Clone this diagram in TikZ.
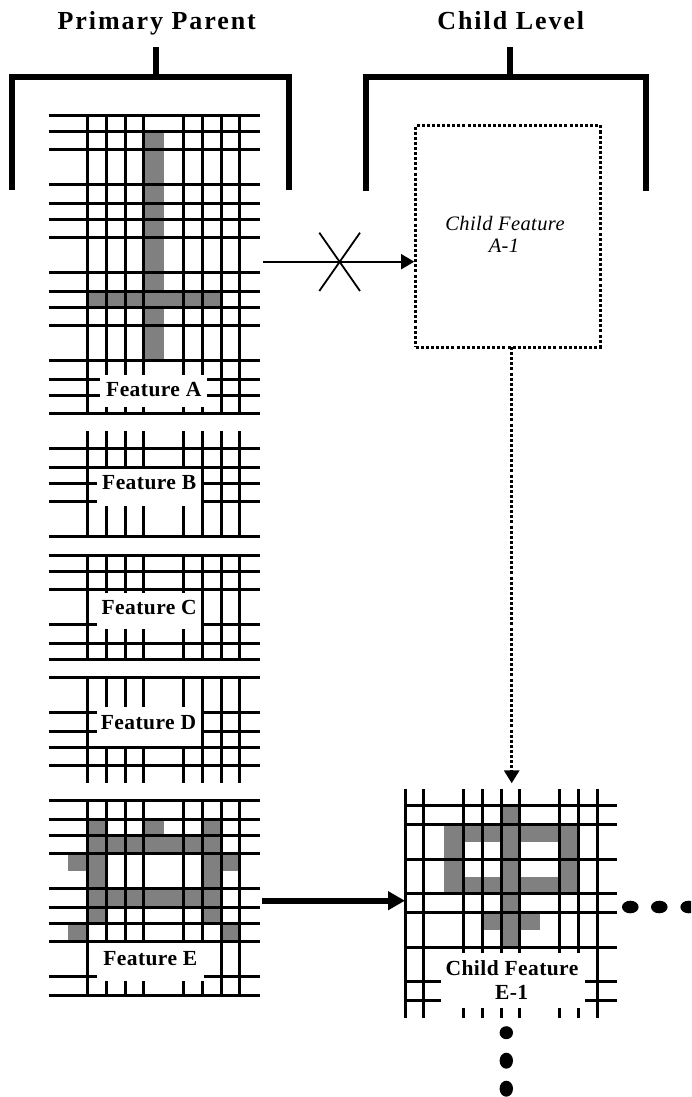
\documentclass[tikz,border=0pt]{standalone}
\usepackage{fontspec}
\usetikzlibrary{arrows.meta}
\setmainfont{Liberation Serif}
\newfontfamily\headfont[LetterSpace=7.5,Ligatures=NoCommon]{Liberation Serif}
\newfontfamily\labfont[LetterSpace=2,Ligatures=NoCommon]{Liberation Serif}
\newcommand{\gridlines}[6]{%
  \foreach \yy in {#5} \draw[gridline] (#1,\yy) -- (#2,\yy);
  \foreach \xx in {#6} \draw[gridline] (\xx,#3) -- (\xx,#4);
}
\newcommand{\parentgrid}[3]{\gridlines{49}{260}{#1}{#2}{#3}{87.5,106.5,125.5,143.5,183.5,202.5,221.5,239.5}}
\definecolor{gray50}{HTML}{808080}
\tikzset{
  gridline/.style={line width=2.8pt,black},
  bracketline/.style={line width=5.6pt,black},
  grayfill/.style={fill=gray50},
  gapbox/.style={fill=white},
  gridarea/.style={inner sep=0pt,outer sep=0pt,minimum width=211pt},
  headtext/.style={font=\headfont\bfseries\fontsize{26}{26}\selectfont,anchor=base,inner sep=0pt},
  labeltext/.style={font=\labfont\bfseries\fontsize{21.5}{21.5}\selectfont,anchor=base,inner sep=0pt},
  italictext/.style={font=\labfont\itshape\fontsize{20.5}{20.5}\selectfont,anchor=base,inner sep=0pt},
  dottedbox/.style={draw,line width=3pt,dash pattern=on 3pt off 2.1pt,inner sep=0pt,minimum width=184.3pt,minimum height=221.7pt},
  thinarrow/.style={line width=1.6pt,-{Triangle[length=13pt,width=15pt]}},
  dotarrow/.style={line width=3pt,dash pattern=on 3pt off 2.1pt,-{Triangle[length=13pt,width=15pt]}},
  thickarrow/.style={line width=6.4pt,-{Triangle[length=17pt,width=18pt]}},
  crossline/.style={line width=1.8pt}
}
\begin{document}
\begin{tikzpicture}[x=1pt,y=-1pt]
\clip (0,0) rectangle (691,1097);
\fill[white] (0,0) rectangle (691,1097);

% brackets
\node[headtext] (headP) at (156.7,29.3) {Primary Parent};
\node[headtext] (headC) at (510.8,29.3) {Child Level};
\draw[bracketline] (155.7,47) -- (155.7,77);
\draw[bracketline] (12,190) -- (12,77) -- (289,77) -- (289,190);
\draw[bracketline] (510,47) -- (510,77);
\draw[bracketline] (366,191) -- (366,77) -- (646,77) -- (646,191);

% Feature A
\node[gridarea,minimum height=298pt] (gridA) at (154.5,264) {};
\fill[grayfill] (143.3,131) rectangle (164,360);
\fill[grayfill] (87.3,291) rectangle (221.3,307.3);
\parentgrid{115}{413.5}{115.5,131.5,149.5,184.5,203.5,219.5,237.5,272.5,291.5,307.5,325.5,360.5,379.5,395.5,413.5}
\fill[gapbox] (100,375) rectangle (207,406.7);
\node[labeltext] (labA) at (153.8,396.7) {Feature A};

% Feature B
\node[gridarea,minimum height=105pt] (gridB) at (154.5,483.6) {};
\parentgrid{431}{536.5}{448.5,467.5,483.5,501.5,536.5}
\fill[gapbox] (96.7,469) rectangle (201,506);
\node[labeltext] (labB) at (149.2,489.3) {Feature B};

% Feature C
\node[gridarea,minimum height=104pt] (gridC) at (154.5,607.3) {};
\parentgrid{555.5}{659.5}{555.5,571.5,589.5,624.5,643.5,659.5}
\fill[gapbox] (96.7,593.3) rectangle (201,629);
\node[labeltext] (labC) at (149.2,614.7) {Feature C};

% Feature D
\node[gridarea,minimum height=105pt] (gridD) at (154.5,730) {};
\parentgrid{677.5}{782.7}{677.5,712.5,731.5,747.5,765.5}
\fill[gapbox] (96.7,707.3) rectangle (201,746);
\node[labeltext] (labD) at (148.5,729.3) {Feature D};

% Feature E
\node[gridarea,minimum height=195pt] (gridE) at (154.5,897.8) {};
\fill[grayfill] (87.3,819.3) rectangle (106.3,923.3);
\fill[grayfill] (202.3,819.3) rectangle (221.3,923.3);
\fill[grayfill] (87.3,835.3) rectangle (221.3,853.3);
\fill[grayfill] (87.3,888.3) rectangle (221.3,907.3);
\fill[grayfill] (143.3,819.3) rectangle (164,835.3);
\fill[grayfill] (68,853.3) rectangle (87.3,871);
\fill[grayfill] (221.3,853.3) rectangle (238.3,871);
\fill[grayfill] (68,923.3) rectangle (87.3,940.5);
\fill[grayfill] (221.3,923.3) rectangle (238.3,940.5);
\parentgrid{800.5}{995.5}{800.5,819.5,835.5,853.5,888.5,907.5,923.5,941.5,976.5,995.5}
\fill[gapbox] (96.7,943) rectangle (204,981);
\node[labeltext] (labE) at (150.3,965) {Feature E};

% Child Feature A-1
\node[dottedbox] (childA) at (507.85,236.15) {};
\node[italictext] (labA1a) at (505,230.7) {Child Feature};
\node[italictext] (labA1b) at (504,252.7) {A-1};

% Child Feature E-1
\node[gridarea,minimum width=212pt,minimum height=229pt] (childE) at (511,903.5) {};
\fill[grayfill] (501.3,805.3) rectangle (519.3,947.3);
\fill[grayfill] (444,824.3) rectangle (578.3,842);
\fill[grayfill] (444,824.3) rectangle (463.3,893.3);
\fill[grayfill] (559.3,824.3) rectangle (578.3,893.3);
\fill[grayfill] (444,876.5) rectangle (578.3,893.3);
\fill[grayfill] (484,912.3) rectangle (540,930);
\gridlines{405}{617}{789}{1018}{805.5,824.5,859.5,893.5,912.5,947.5,981.5,1000.5}{405.5,423.5,463.5,482.5,501.5,519.5,559.5,578.5,597.5}
\fill[gapbox] (441,953.3) rectangle (585,1008);
\node[labeltext] (labE1a) at (512,975) {Child Feature};
\node[labeltext] (labE1b) at (511.7,999) {E-1};

% connectors
\coordinate (aStart) at (263,261.7);
\draw[thinarrow] (aStart) -- (aStart -| childA.west);
\coordinate (xa) at (319.3,232.7);
\coordinate (xb) at (360,291);
\coordinate (xc) at (360,232.7);
\coordinate (xd) at (319.3,291);
\draw[crossline] (xa) -- (xb);
\draw[crossline] (xc) -- (xd);
\coordinate (dStart) at (511.7,347);
\coordinate (dEnd) at (511.7,783.3);
\draw[dotarrow] (dStart) -- (dEnd);
\coordinate (eStart) at (262,900.7);
\draw[thickarrow] (eStart) -- (eStart -| childE.west);

% ellipsis dots
\fill (630.3,907) ellipse [x radius=8.3,y radius=6.3];
\fill (659.3,907) ellipse [x radius=8.3,y radius=6.3];
\fill (688.7,907) ellipse [x radius=8.3,y radius=6.3];
\fill (506.3,1032.7) ellipse [x radius=6.7,y radius=6.5];
\fill (506.3,1060.7) ellipse [x radius=6.7,y radius=8];
\fill (506.3,1088.7) ellipse [x radius=6.7,y radius=8];
\end{tikzpicture}
\end{document}
